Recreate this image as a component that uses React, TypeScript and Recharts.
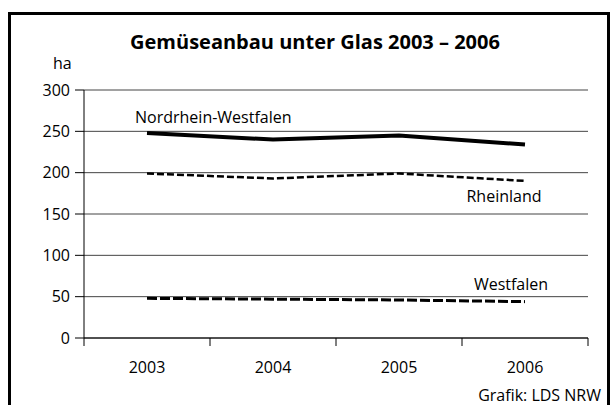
import { LineChart, Line, XAxis, YAxis, CartesianGrid } from "recharts";

const years = [2003, 2004, 2005, 2006];
const nrw = [248, 240, 245, 234];
const rheinland = [199, 193, 199, 190];
const westfalen = [48, 47, 46, 44];
const yTicks = [0, 50, 100, 150, 200, 250, 300];

const data = years.map((year, i) => ({
  year,
  nrw: nrw[i],
  rheinland: rheinland[i],
  westfalen: westfalen[i],
}));

// ticks at category centers (labels) and boundaries (tick marks)
const xTicks = [years[0] - 0.5, ...years.flatMap((y) => [y, y + 0.5])];

const FONT = "'Open Sans', 'Noto Sans', sans-serif";

const XTick = ({ x, y, payload }: any) => {
  if (Number.isInteger(payload.value)) {
    return (
      <text x={x} y={y} dy={27} textAnchor="middle" fontSize={16} fontFamily={FONT} fill="#000">
        {payload.value}
      </text>
    );
  }
  return <line x1={x} y1={y - 8} x2={x} y2={y} stroke="#000" strokeWidth={1} />;
};

const seriesLabel = (text: string, at: number, dx: number, dy: number, anchor: string) => (props: any) => {
  if (props.index !== at) return null;
  return (
    <text x={props.x + dx} y={props.y + dy} textAnchor={anchor} fontSize={16} fontFamily={FONT} fill="#000">
      {text}
    </text>
  );
};

export default function App() {
  return (
    <div style={{ position: "absolute", left: 0, top: 0, width: 612, height: 405, overflow: "hidden", background: "#fff", fontFamily: FONT }}>
      <div style={{ position: "absolute", left: 8, top: 12, width: 596, height: 420, border: "3px solid #000" }} />
      <div style={{ position: "absolute", left: 0, top: 28, width: 630, textAlign: "center", fontSize: 20, fontWeight: 700, color: "#000" }}>
        Gemüseanbau unter Glas 2003 – 2006
      </div>
      <div style={{ position: "absolute", left: 53, top: 52, fontSize: 16, color: "#000" }}>ha</div>
      <div style={{ position: "absolute", right: 11, top: 384, fontSize: 16, color: "#000" }}>Grafik: LDS NRW</div>
      <LineChart width={612} height={405} data={data} margin={{ top: 90, right: 24, bottom: 37, left: 0 }} style={{ position: "absolute", left: 0, top: 0 }}>
        <CartesianGrid vertical={false} stroke="#444" strokeWidth={1} />
        <XAxis
          dataKey="year"
          type="number"
          domain={[years[0] - 0.5, years[years.length - 1] + 0.5]}
          ticks={xTicks}
          interval={0}
          height={30}
          tickSize={8}
          tickMargin={0}
          tickLine={false}
          axisLine={{ stroke: "#000" }}
          tick={<XTick />}
        />
        <YAxis
          domain={[0, 300]}
          ticks={yTicks}
          interval={0}
          width={84}
          tickSize={9}
          tickMargin={5}
          tickLine={{ stroke: "#000" }}
          axisLine={{ stroke: "#000" }}
          tick={{ fill: "#000", fontSize: 16, fontFamily: FONT }}
        />
        <Line dataKey="nrw" stroke="#000" strokeWidth={4} dot={false} isAnimationActive={false}
          label={seriesLabel("Nordrhein-Westfalen", 0, -12, -10, "start")} />
        <Line dataKey="rheinland" stroke="#000" strokeWidth={2.5} strokeDasharray="7 3" dot={false} isAnimationActive={false}
          label={seriesLabel("Rheinland", 3, -21, 21, "middle")} />
        <Line dataKey="westfalen" stroke="#000" strokeWidth={3} strokeDasharray="10 3" dot={false} isAnimationActive={false}
          label={seriesLabel("Westfalen", 3, -14, -12, "middle")} />
      </LineChart>
    </div>
  );
}
